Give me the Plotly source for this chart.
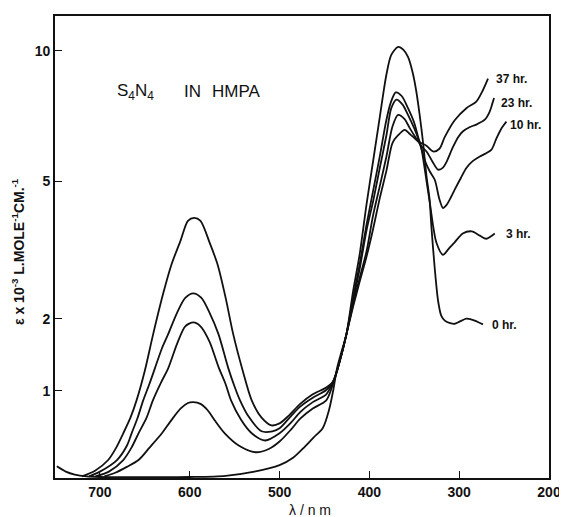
import numpy as np
import plotly.graph_objects as go

# --- data: wavelength (nm) and epsilon x 10^-3 (L mole^-1 cm^-1) ---
lam0 = [748, 738, 728, 715, 700, 650, 600, 560, 528, 500, 485, 472, 462, 452, 445, 440, 436, 430, 425.5,
        418.1, 410.7, 403.2, 395.9, 388.4, 381, 375.6, 368, 362, 357, 352, 348, 344, 340.2, 336.4, 333,
        330.9, 327.2, 323.5, 320, 316, 310, 305, 300, 292, 287, 282.7, 278, 273.5]
eps0 = [0.235, 0.19, 0.165, 0.15, 0.145, 0.143, 0.145, 0.155, 0.19, 0.245, 0.31, 0.41, 0.50, 0.59, 0.78,
        1.02, 1.28, 1.55, 1.76, 2.47, 3.2, 4.36, 5.59, 7.12, 8.88, 9.8, 10.2, 10.05, 9.7, 9.0, 8.2, 7.2,
        6.2, 5.15, 4.5, 3.8, 2.9, 2.3, 2.05, 1.97, 1.93, 1.92, 1.95, 2.0, 1.99, 1.97, 1.94, 1.91]

lam3 = [695, 683, 670, 657, 645, 631, 620, 610, 602, 596, 588, 580, 572, 561, 545, 527, 512, 500, 487, 477,
        463, 448, 440, 432, 425.5, 418.1, 410.7, 403.2, 395.9, 388.4, 381, 376, 370.6, 364, 357, 350, 345.7,
        342, 338.3, 332.8, 325.3, 318, 312, 305, 296, 286, 277, 270, 265, 260.4]
eps3 = [0.15, 0.18, 0.23, 0.29, 0.40, 0.54, 0.68, 0.80, 0.86, 0.87, 0.85, 0.78, 0.67, 0.54, 0.42, 0.36, 0.39,
        0.46, 0.58, 0.69, 0.80, 0.89, 1.10, 1.42, 1.76, 2.35, 2.99, 3.85, 4.72, 5.75, 7.02, 7.7, 8.1, 7.95,
        7.46, 6.9, 6.4, 6.0, 5.35, 4.42, 3.44, 3.18, 3.3, 3.45, 3.65, 3.7, 3.6, 3.53, 3.58, 3.65]

lam10 = [705, 690, 674, 665, 657, 648, 641, 632, 624, 614, 605, 596, 588, 578, 568, 560, 554, 543, 531, 516,
         500, 487, 477, 463, 448, 440, 432, 425.5, 418.1, 410.7, 403.2, 395.9, 388.4, 381, 375.6, 369.8, 363,
         357, 350, 345.7, 342, 338.3, 333, 327.2, 322, 318, 314, 310.5, 305, 298, 292, 285, 277, 270, 264,
         258.5, 253, 247.4]
eps10 = [0.15, 0.19, 0.29, 0.40, 0.54, 0.70, 0.89, 1.10, 1.28, 1.62, 1.88, 1.94, 1.88, 1.65, 1.30, 1.08, 0.89,
         0.68, 0.54, 0.47, 0.54, 0.65, 0.76, 0.87, 0.96, 1.12, 1.42, 1.76, 2.3, 2.9, 3.72, 4.44, 5.39, 6.46,
         7.46, 7.8, 7.6, 7.2, 6.7, 6.35, 6.0, 5.63, 5.3, 5.04, 4.5, 4.27, 4.35, 4.49, 4.76, 5.1, 5.39, 5.6,
         5.75, 5.85, 5.97, 6.35, 6.7, 6.95]

lam23 = [712, 700, 681, 670, 664.7, 658, 651.8, 645, 638.8, 631, 624, 614, 605, 596, 587, 578, 568, 557, 550,
         544, 535, 520, 508, 500, 487, 477, 463, 448, 440, 432, 425.5, 418.1, 410.7, 403.2, 395.9, 388.4, 381,
         374.2, 368, 361, 355, 350, 345.7, 341, 336.4, 330, 323.5, 318, 314, 307, 301, 296, 288, 281, 271.5,
         266, 263, 261.2]
eps23 = [0.15, 0.19, 0.29, 0.42, 0.54, 0.70, 0.89, 1.08, 1.28, 1.55, 1.76, 2.1, 2.35, 2.43, 2.35, 2.1, 1.76,
         1.28, 1.05, 0.89, 0.72, 0.56, 0.56, 0.59, 0.72, 0.82, 0.92, 1.01, 1.12, 1.42, 1.76, 2.24, 2.72, 3.25,
         4.08, 4.86, 5.75, 6.78, 7.2, 7.05, 6.71, 6.45, 6.25, 6.05, 5.91, 5.6, 5.34, 5.4, 5.58, 6.05, 6.4, 6.59,
         6.75, 6.84, 7.02, 7.33, 7.65, 7.87]

lam37 = [720, 705, 690.8, 682, 674, 666, 659.2, 650, 640.7, 630, 620.3, 610, 602, 595, 588, 578, 569, 560,
         551.6, 541, 531, 520, 509, 500, 490, 477, 463, 448, 440, 432, 425.5, 418.1, 410.7, 403.2, 395.9,
         388.4, 381, 374.2, 368, 360.6, 355, 351.3, 347, 342.8, 336.4, 329, 322, 316, 305, 292, 281, 273.5,
         267.9]
eps37 = [0.15, 0.2, 0.29, 0.40, 0.54, 0.70, 0.89, 1.25, 1.76, 2.4, 2.98, 3.5, 3.95, 4.02, 3.95, 3.45, 2.98,
         2.35, 1.76, 1.25, 0.89, 0.70, 0.62, 0.64, 0.72, 0.85, 0.96, 1.04, 1.12, 1.42, 1.76, 2.2, 2.65, 3.14,
         3.75, 4.53, 5.31, 6.2, 6.46, 6.65, 6.5, 6.4, 6.28, 6.2, 6.1, 5.91, 6.0, 6.4, 7.0, 7.46, 7.72, 8.2,
         8.69]

series = [("0 hr.", lam0, eps0), ("3 hr.", lam3, eps3), ("10 hr.", lam10, eps10),
          ("23 hr.", lam23, eps23), ("37 hr.", lam37, eps37)]

# curve labels: (text, wavelength, epsilon)
labels = [("37 hr.", 261.2, 8.69), ("23 hr.", 255.6, 7.65), ("10 hr.", 245.6, 6.84),
          ("3 hr.", 250.4, 3.63), ("0 hr.", 265.3, 1.90)]

x_ticks = [700, 600, 500, 400, 300, 200]
y_ticks = [1, 2, 5, 10]
y_ticktext = ["1", "2", "5", "10"]

# the printed ordinate is a compressed scale, approx. log10(eps + C)
C = 1.8
def ty(v):
    return np.log10(np.asarray(v, dtype=float) + C)

ink = "#111111"
fig = go.Figure()
for name, lam, eps in series:
    fig.add_trace(go.Scatter(x=lam, y=ty(eps), mode="lines", name=name,
                             line=dict(color=ink, width=1.8, shape="spline", smoothing=0.8),
                             showlegend=False, hoverinfo="skip"))

for text, lx, ly in labels:
    fig.add_annotation(x=lx, y=float(ty(ly)), text=text, showarrow=False, xanchor="left",
                       yanchor="middle", font=dict(family="Liberation Sans", size=12, color=ink, weight="bold"))

# in-plot title pieces
for txt, xp in [("S<sub>4</sub>N<sub>4</sub>", 0.1214), ("IN", 0.2569), ("HMPA", 0.3136)]:
    fig.add_annotation(xref="paper", yref="paper", x=xp, y=0.8356, text=txt, showarrow=False,
                       xanchor="left", yanchor="middle",
                       font=dict(family="Liberation Sans", size=17, color=ink))
fig.add_annotation(xref="paper", yref="paper", x=-0.075, y=0.491, textangle=-90,
                   text="ε x 10<sup>-3</sup> L.MOLE<sup>-1</sup>CM.<sup>-1</sup>", showarrow=False,
                   xanchor="center", yanchor="middle",
                   font=dict(family="Liberation Sans", size=14, color=ink, weight="bold"))
fig.add_annotation(xref="paper", yref="paper", x=0.516, y=-0.07, text="λ / n m", showarrow=False,
                   xanchor="center", yanchor="middle",
                   font=dict(family="Liberation Sans", size=14, color=ink))

axis_common = dict(showline=True, linecolor=ink, linewidth=1.6, mirror=True, ticks="inside",
                   ticklen=7, tickwidth=1.4, tickcolor=ink, showgrid=False, zeroline=False,
                   tickfont=dict(family="Liberation Sans", size=14, color=ink, weight="bold"))
fig.update_xaxes(range=[750, 200], tickmode="array", tickvals=x_ticks, **axis_common)
fig.update_yaxes(range=[0.2871, 1.1360], tickmode="array", tickvals=list(ty(y_ticks)),
                 ticktext=y_ticktext, **axis_common)

# page body adds an 8px offset at left/top; size chosen so the plot frame lands where the original's does
fig.update_layout(width=559, height=509, margin=dict(l=47, r=18, t=6, b=39),
                  plot_bgcolor="white", paper_bgcolor="white")
fig.write_html("out.html")
